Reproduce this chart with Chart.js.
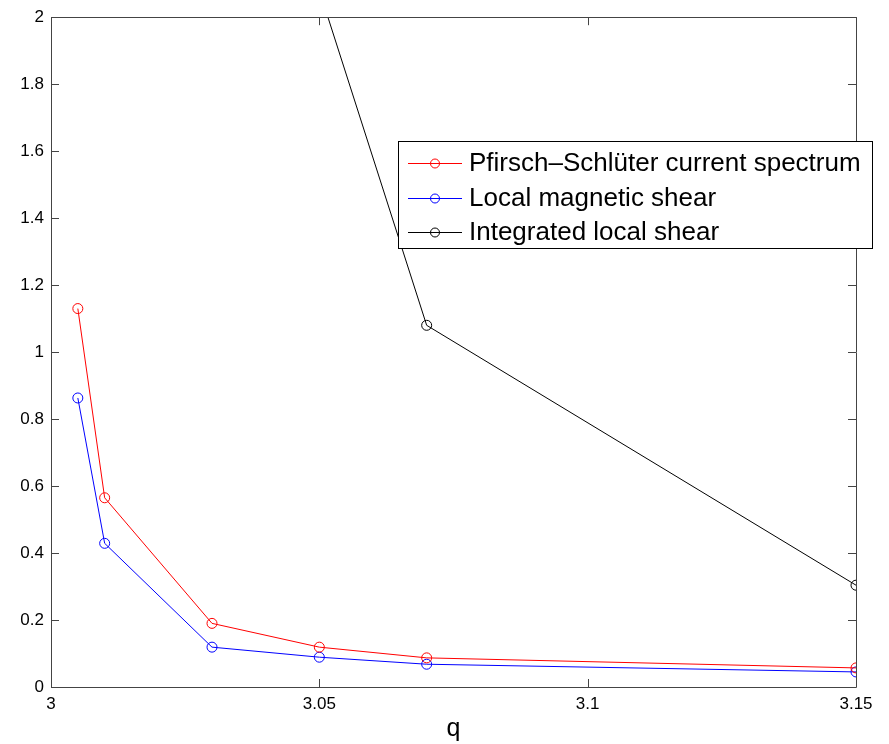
<!DOCTYPE html>
<html>
<head>
<meta charset="utf-8">
<script src="https://cdn.jsdelivr.net/npm/chart.js@4/dist/chart.umd.min.js"></script>
<style>
html,body{margin:0;padding:0;background:#fff;}
canvas{display:block;}
</style>
</head>
<body>
<canvas id="c" width="889" height="744"></canvas>
<script>
const qValues = [3.005, 3.01, 3.03, 3.05, 3.07, 3.15];
const psCurrent = [1.13, 0.565, 0.19, 0.119, 0.087, 0.057];
const localShear = [0.863, 0.429, 0.119, 0.089, 0.068, 0.045];
const integratedShear = [null, null, null, 2.08, 1.08, 0.304];
const seriesNames = ['Pfirsch\u2013Schl\u00fcter current spectrum', 'Local magnetic shear', 'Integrated local shear'];
const seriesColors = ['#ff0000', '#0000ff', '#000000'];
const xTickValues = [3, 3.05, 3.1, 3.15];
const xTickLabels = ['3', '3.05', '3.1', '3.15'];
const yTickValues = [0, 0.2, 0.4, 0.6, 0.8, 1, 1.2, 1.4, 1.6, 1.8, 2];
const yTickLabels = ['0', '0.2', '0.4', '0.6', '0.8', '1', '1.2', '1.4', '1.6', '1.8', '2'];

const FONT = '"Liberation Sans", Arial, Helvetica, sans-serif';

function mk(vals) { return qValues.map((q, i) => ({x: q, y: vals[i]})); }
const seriesData = [psCurrent, localShear, integratedShear];

const datasets = seriesData.map((vals, i) => ({
  label: seriesNames[i],
  data: mk(vals),
  borderColor: seriesColors[i],
  backgroundColor: 'rgba(0,0,0,0)',
  borderWidth: 1,
  pointRadius: 5,
  pointHoverRadius: 5,
  pointBorderWidth: 1,
  pointBackgroundColor: 'rgba(0,0,0,0)',
  pointBorderColor: seriesColors[i],
  tension: 0,
  spanGaps: false
}));

const boxPlugin = {
  id: 'boxTicks',
  afterDraw(chart) {
    const ctx = chart.ctx;
    const a = chart.chartArea;
    const xs = chart.scales.x, ys = chart.scales.y;
    ctx.save();
    ctx.strokeStyle = '#444';
    ctx.lineWidth = 1;
    ctx.beginPath();
    ctx.rect(Math.round(a.left) + 0.5, Math.round(a.top) + 0.5, Math.round(a.right - a.left), Math.round(a.bottom - a.top));
    ctx.stroke();
    const L = 8;
    ctx.beginPath();
    xTickValues.forEach(v => {
      const px = Math.round(xs.getPixelForValue(v)) + 0.5;
      ctx.moveTo(px, a.bottom); ctx.lineTo(px, a.bottom - L);
      ctx.moveTo(px, a.top); ctx.lineTo(px, a.top + L);
    });
    yTickValues.forEach(v => {
      const py = Math.round(ys.getPixelForValue(v)) + 0.5;
      ctx.moveTo(a.left, py); ctx.lineTo(a.left + L, py);
      ctx.moveTo(a.right, py); ctx.lineTo(a.right - L, py);
    });
    ctx.stroke();

    // legend box
    const bx = 398.5, by = 141.5, bw = 474, bh = 107;
    ctx.fillStyle = '#fff';
    ctx.fillRect(bx, by, bw, bh);
    ctx.strokeStyle = '#000';
    ctx.strokeRect(bx, by, bw, bh);
    ctx.font = '26px ' + FONT;
    ctx.textBaseline = 'middle';
    ctx.textAlign = 'left';
    const rows = [163, 198, 232];
    seriesNames.forEach((name, i) => {
      const y = rows[i] + 0.5;
      ctx.strokeStyle = seriesColors[i];
      ctx.beginPath();
      ctx.moveTo(408, y); ctx.lineTo(462, y);
      ctx.stroke();
      ctx.beginPath();
      ctx.arc(435, y, 4.5, 0, Math.PI * 2);
      ctx.stroke();
      ctx.fillStyle = '#000';
      ctx.fillText(name, 469, rows[i] + 1);
    });
    ctx.restore();
  }
};

new Chart(document.getElementById('c'), {
  type: 'line',
  data: { datasets },
  plugins: [boxPlugin],
  options: {
    responsive: false,
    animation: false,
    devicePixelRatio: 1,
    layout: { padding: { top: 15, right: 33, bottom: 0, left: 0 } },
    plugins: { legend: { display: false }, tooltip: { enabled: false } },
    scales: {
      x: {
        type: 'linear',
        min: 3, max: 3.15,
        grid: { display: false, drawTicks: false },
        border: { display: false },
        afterBuildTicks(s) { s.ticks = xTickValues.map(v => ({value: v})); },
        afterFit(s) { s.height = 57; },
        ticks: {
          color: '#000',
          font: { family: FONT, size: 17 },
          padding: 7,
          maxRotation: 0,
          autoSkip: false,
          callback(v) { const i = xTickValues.indexOf(v); return i >= 0 ? xTickLabels[i] : ''; }
        },
        title: { display: true, text: 'q', color: '#000', font: { family: FONT, size: 25 }, padding: { top: 0, bottom: 0 } }
      },
      y: {
        type: 'linear',
        min: 0, max: 2,
        grid: { display: false, drawTicks: false },
        border: { display: false },
        afterBuildTicks(s) { s.ticks = yTickValues.map(v => ({value: v})); },
        afterFit(s) { s.width = 51; },
        ticks: {
          color: '#000',
          font: { family: FONT, size: 17 },
          padding: 7,
          autoSkip: false,
          callback(v) { const i = yTickValues.findIndex(t => Math.abs(t - v) < 1e-9); return i >= 0 ? yTickLabels[i] : ''; }
        }
      }
    }
  }
});
</script>
</body>
</html>
